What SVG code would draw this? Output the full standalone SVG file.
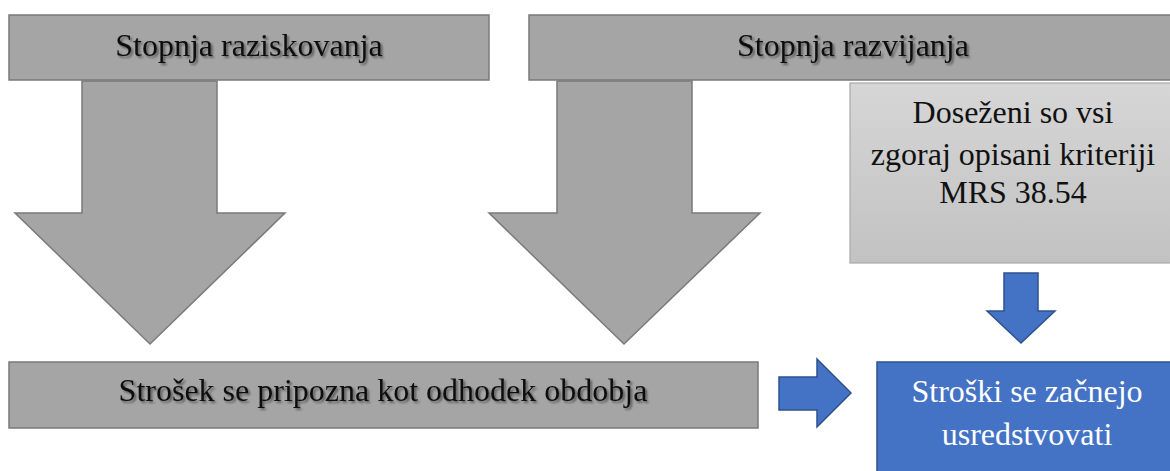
<svg xmlns="http://www.w3.org/2000/svg" width="1170" height="471" viewBox="0 0 1170 471">
  <defs>
    <linearGradient id="lightGrad" x1="0" y1="0" x2="0" y2="1">
      <stop offset="0" stop-color="#d6d6d6"/>
      <stop offset="1" stop-color="#c2c2c2"/>
    </linearGradient>
    <filter id="txtShadow" x="-5%" y="-30%" width="110%" height="160%">
      <feGaussianBlur in="SourceAlpha" stdDeviation="1.2"/>
      <feOffset dx="1.5" dy="2" result="b"/>
      <feComponentTransfer><feFuncA type="linear" slope="0.45"/></feComponentTransfer>
      <feMerge><feMergeNode/><feMergeNode in="SourceGraphic"/></feMerge>
    </filter>
  </defs>
  <style>
    .gray { fill: #a5a5a5; stroke: #7a7a7a; stroke-width: 1.5; }
    .light { fill: url(#lightGrad); stroke: #a9a9a9; stroke-width: 1.2; }
    .blue { fill: #4472c4; stroke: #2f528f; stroke-width: 1.5; }
    .t { font-family: "Liberation Serif", "Times New Roman", serif; font-size: 32px; text-anchor: middle; }
    .dark { fill: #111111; }
    .white { fill: #ffffff; }
    .sh { filter: url(#txtShadow); }
  </style>
  <rect width="1170" height="471" fill="#ffffff"/>

  <g id="connectors">
    <path class="gray" d="M82,81 L217,81 L217,213 L285,213 L150,344 L15,213 L82,213 Z"/>
    <path class="gray" d="M557,81 L692,81 L692,213 L760,213 L624,344 L489,213 L557,213 Z"/>
    <path class="blue" d="M1004,273 L1038,273 L1038,311 L1055,311 L1021,343 L987,311 L1004,311 Z"/>
    <path class="blue" d="M779,377 L817,377 L817,359 L851,393 L817,427 L817,410 L779,410 Z"/>
  </g>

  <g id="node-raziskovanje">
    <rect class="gray" x="9" y="15" width="480" height="65"/>
    <text class="t dark sh" x="249" y="56">Stopnja raziskovanja</text>
  </g>

  <g id="node-razvijanje">
    <rect class="gray" x="529" y="15" width="660" height="65"/>
    <text class="t dark sh" x="853" y="56">Stopnja razvijanja</text>
  </g>

  <g id="node-kriteriji">
    <rect class="light" x="850" y="83" width="340" height="180"/>
    <text class="t dark" x="1013" y="123">Doseženi so vsi</text>
    <text class="t dark" x="1013" y="165">zgoraj opisani kriteriji</text>
    <text class="t dark" x="1013" y="203">MRS 38.54</text>
  </g>

  <g id="node-odhodek">
    <rect class="gray" x="9" y="362" width="749" height="66"/>
    <text class="t dark sh" x="383" y="401">Strošek se pripozna kot odhodek obdobja</text>
  </g>

  <g id="node-usredstvovanje">
    <rect class="blue" x="877" y="362" width="320" height="130"/>
    <text class="t white" x="1027" y="402">Stroški se začnejo</text>
    <text class="t white" x="1027" y="445">usredstvovati</text>
  </g>
</svg>
